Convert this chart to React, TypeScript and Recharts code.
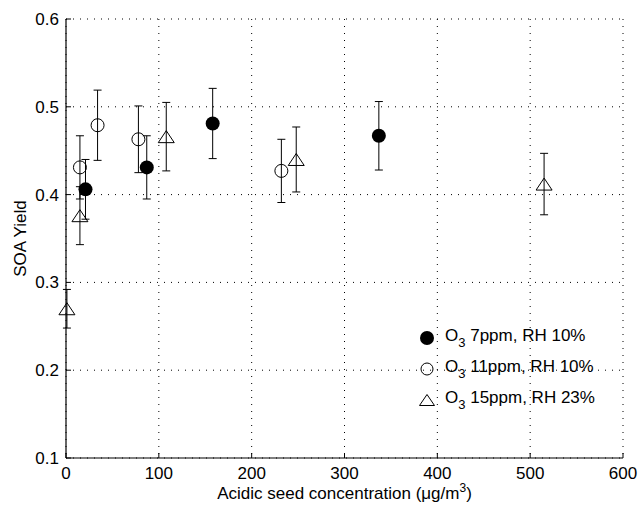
import React from 'react';
import { ScatterChart, Scatter, XAxis, YAxis, CartesianGrid, ErrorBar, Legend } from 'recharts';

// O3 7ppm, RH 10% (filled circles)
const o3_7_x = [21, 87, 158, 337];
const o3_7_y = [0.406, 0.431, 0.481, 0.467];
const o3_7_err = [0.034, 0.036, 0.040, 0.039];

// O3 11ppm, RH 10% (open circles)
const o3_11_x = [15, 34, 78, 232];
const o3_11_y = [0.431, 0.479, 0.463, 0.427];
const o3_11_err = [0.036, 0.040, 0.038, 0.036];

// O3 15ppm, RH 23% (triangles)
const o3_15_x = [1, 15, 108, 248, 515];
const o3_15_y = [0.270, 0.376, 0.466, 0.440, 0.412];
const o3_15_err = [0.022, 0.033, 0.039, 0.037, 0.035];

const seriesNames = ['O3 7ppm, RH 10%', 'O3 11ppm, RH 10%', 'O3 15ppm, RH 23%'];
const xTicks = [0, 100, 200, 300, 400, 500, 600];
const yTicks = [0.1, 0.2, 0.3, 0.4, 0.5, 0.6];

const FONT = '"Liberation Sans", Arial, Helvetica, sans-serif';
const FS = 17;

const toPoints = (xs: number[], ys: number[], errs: number[]) =>
  xs.map((x, i) => ({ x, y: ys[i], err: errs[i] }));

const filledDot = (p: any) => <circle cx={p.cx} cy={p.cy} r={7} fill="#000" />;
const openDot = (p: any) => <circle cx={p.cx} cy={p.cy} r={6.5} fill="none" stroke="#000" strokeWidth={1} />;
const triangle = (p: any) => (
  <path d={`M${p.cx},${p.cy - 6} L${p.cx + 8},${p.cy + 6} L${p.cx - 8},${p.cy + 6} Z`} fill="none" stroke="#000" strokeWidth={1} />
);

const LegendMarker = ({ kind }: { kind: number }) => (
  <svg width={20} height={20} style={{ display: 'block' }}>
    {kind === 0 && <circle cx={10} cy={10} r={7} fill="#000" />}
    {kind === 1 && <circle cx={10} cy={10} r={6} fill="none" stroke="#000" />}
    {kind === 2 && <path d="M10,4.5 L17.5,15.5 L2.5,15.5 Z" fill="none" stroke="#000" />}
  </svg>
);

const renderLegend = () => (
  <div style={{ fontFamily: FONT, fontSize: FS, color: '#000' }}>
    {seriesNames.map((name, i) => (
      <div key={name} style={{ display: 'flex', alignItems: 'center', height: 31 }}>
        <LegendMarker kind={i} />
        <span style={{ marginLeft: 8, whiteSpace: 'nowrap' }}>
          {name.slice(0, 1)}
          <sub style={{ fontSize: 13, verticalAlign: -6 }}>{name.slice(1, 2)}</sub>
          {name.slice(2)}
        </span>
      </div>
    ))}
  </div>
);

const XLabel = (props: any) => {
  const vb = props.viewBox;
  return (
    <text x={vb.x + vb.width / 2} y={vb.y + 41} textAnchor="middle" fontFamily={FONT} fontSize={FS} fill="#000">
      Acidic seed concentration (μg/m
      <tspan dy={-7} fontSize={12}>3</tspan>
      <tspan dy={7}>)</tspan>
    </text>
  );
};

const YLabel = (props: any) => {
  const vb = props.viewBox;
  const cx = 20;
  const cy = vb.y + vb.height / 2;
  return (
    <text x={cx} y={cy} textAnchor="middle" dominantBaseline="central" transform={`rotate(-90, ${cx}, ${cy})`} fontFamily={FONT} fontSize={FS} fill="#000">
      SOA Yield
    </text>
  );
};

const noTick = () => <g />;

export default function App() {
  const tickStyle = { fontFamily: FONT, fontSize: FS, fill: '#000' };
  return (
    <div style={{ position: 'absolute', left: 0, top: 0, width: 638, height: 508, background: '#fff' }}>
      <ScatterChart width={638} height={508} margin={{ top: 19, right: 15, bottom: 0, left: 0 }}>
        <CartesianGrid stroke="#000" strokeDasharray="1 6" />
        <XAxis
          type="number"
          dataKey="x"
          domain={[0, 600]}
          ticks={xTicks}
          height={50}
          tick={tickStyle}
          tickSize={-5}
          tickMargin={14}
          axisLine={{ stroke: '#000', strokeWidth: 1.2 }}
          tickLine={{ stroke: '#000' }}
          label={<XLabel />}
        />
        <YAxis
          type="number"
          dataKey="y"
          domain={[0.1, 0.6]}
          ticks={yTicks}
          width={66}
          tick={tickStyle}
          tickFormatter={(v: number) => v.toFixed(1)}
          tickSize={-5}
          tickMargin={12}
          axisLine={{ stroke: '#000', strokeWidth: 1.2 }}
          tickLine={{ stroke: '#000' }}
          label={<YLabel />}
        />
        <XAxis
          xAxisId="top"
          orientation="top"
          type="number"
          domain={[0, 600]}
          ticks={xTicks}
          height={0}
          tick={noTick}
          tickSize={-5}
          axisLine={{ stroke: '#000', strokeWidth: 1.2 }}
          tickLine={{ stroke: '#000' }}
        />
        <YAxis
          yAxisId="right"
          orientation="right"
          type="number"
          domain={[0.1, 0.6]}
          ticks={yTicks}
          width={0}
          tick={noTick}
          tickSize={-5}
          axisLine={{ stroke: '#000', strokeWidth: 1.2 }}
          tickLine={{ stroke: '#000' }}
        />
        <Legend
          layout="vertical"
          align="center"
          verticalAlign="middle"
          content={renderLegend}
          wrapperStyle={{ left: 417, top: 322.5, width: 215 }}
        />
        <Scatter name={seriesNames[0]} data={toPoints(o3_7_x, o3_7_y, o3_7_err)} shape={filledDot} isAnimationActive={false}>
          <ErrorBar dataKey="err" direction="y" width={4} stroke="#000" strokeWidth={1} isAnimationActive={false} />
        </Scatter>
        <Scatter name={seriesNames[1]} data={toPoints(o3_11_x, o3_11_y, o3_11_err)} shape={openDot} isAnimationActive={false}>
          <ErrorBar dataKey="err" direction="y" width={4} stroke="#000" strokeWidth={1} isAnimationActive={false} />
        </Scatter>
        <Scatter name={seriesNames[2]} data={toPoints(o3_15_x, o3_15_y, o3_15_err)} shape={triangle} isAnimationActive={false}>
          <ErrorBar dataKey="err" direction="y" width={4} stroke="#000" strokeWidth={1} isAnimationActive={false} />
        </Scatter>
      </ScatterChart>
    </div>
  );
}
